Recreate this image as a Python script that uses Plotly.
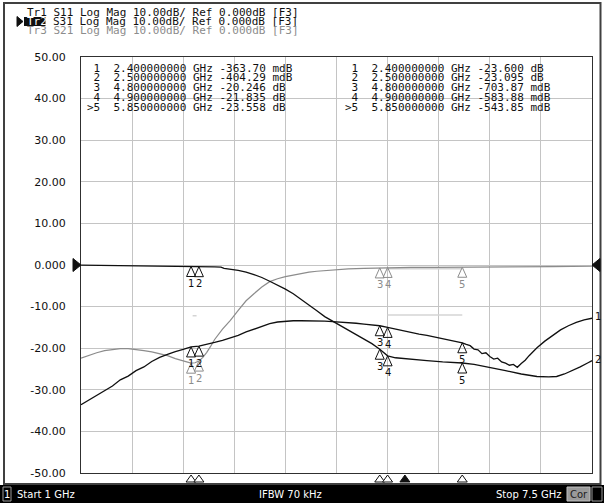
import plotly.graph_objects as go

# ---------------- data ----------------
start_ghz = 1.0
stop_ghz = 7.5
y_ticks = [50, 40, 30, 20, 10, 0, -10, -20, -30, -40, -50]
y_tick_text = ["50.00", "40.00", "30.00", "20.00", "10.00", "0.000",
               "-10.00", "-20.00", "-30.00", "-40.00", "-50.00"]

header_rows = ["Tr1 S11 Log Mag 10.00dB/ Ref 0.000dB [F3]",
               "Tr2 S31 Log Mag 10.00dB/ Ref 0.000dB [F3]",
               "Tr3 S21 Log Mag 10.00dB/ Ref 0.000dB [F3]"]

s11_freq = [1.00, 1.10, 1.20, 1.30, 1.40, 1.50, 1.60, 1.70, 1.80, 1.90,
            2.00, 2.10, 2.20, 2.30, 2.40, 2.50, 2.60, 2.70, 2.80, 2.90,
            3.00, 3.10, 3.20, 3.30, 3.40, 3.50, 3.60, 3.70, 3.80, 3.90,
            4.00, 4.10, 4.20, 4.30, 4.40, 4.50, 4.60, 4.70, 4.80, 4.90,
            5.00, 5.10, 5.20, 5.30, 5.40, 5.50, 5.60, 5.70, 5.80, 5.85,
            5.90, 5.95, 6.00, 6.05, 6.10, 6.15, 6.20, 6.25, 6.30, 6.35,
            6.40, 6.45, 6.50, 6.55, 6.60, 6.65, 6.70, 6.80, 6.90, 7.00,
            7.10, 7.20, 7.30, 7.40, 7.50]
s11_db = [-33.6, -32.5, -31.4, -30.1, -29.1, -27.6, -26.7, -25.4, -24.5, -23.2,
          -22.2, -21.5, -20.8, -20.3, -19.7, -19.5, -19.1, -18.6, -18.1, -17.5,
          -16.9, -16.1, -15.4, -14.7, -14.1, -13.7, -13.5, -13.4, -13.4, -13.4,
          -13.5, -13.5, -13.6, -13.7, -13.8, -14.0, -14.2, -14.4, -14.6, -15.0,
          -15.4, -15.8, -16.3, -16.6, -16.9, -17.3, -17.7, -18.0, -18.4, -18.7,
          -19.1, -19.4, -20.2, -20.4, -21.3, -21.1, -22.0, -22.6, -22.4, -23.3,
          -23.6, -24.1, -23.9, -24.6, -23.7, -22.9, -21.8, -19.9, -18.3, -16.9,
          -15.6, -14.6, -13.8, -13.2, -12.8]

s31_freq = [1.00, 1.50, 2.00, 2.40, 2.50, 2.70, 2.78, 2.82, 3.00, 3.10,
            3.20, 3.30, 3.40, 3.50, 3.60, 3.70, 3.80, 3.90, 4.00, 4.10,
            4.20, 4.30, 4.40, 4.50, 4.60, 4.70, 4.80, 4.90, 5.00, 5.20,
            5.40, 5.60, 5.85, 6.00, 6.20, 6.40, 6.60, 6.80, 6.95, 7.05,
            7.15, 7.25, 7.35, 7.45, 7.50]
s31_db = [-0.05, -0.12, -0.25, -0.3637, -0.40429, -0.45, -0.5, -0.8, -1.3, -1.7,
          -2.3, -3.0, -3.9, -4.8, -5.8, -6.9, -8.2, -9.6, -11.0, -12.4,
          -13.5, -14.5, -15.5, -16.6, -17.7, -18.9, -20.246, -21.835, -22.3, -22.7,
          -23.0, -23.3, -23.558, -23.9, -24.6, -25.4, -26.2, -26.8, -26.9, -26.8,
          -26.2, -25.4, -24.5, -23.5, -23.0]

s21_freq = [1.00, 1.10, 1.20, 1.30, 1.40, 1.50, 1.60, 1.70, 1.80, 1.90,
            2.00, 2.10, 2.20, 2.30, 2.40, 2.45, 2.50, 2.55, 2.60, 2.65,
            2.70, 2.80, 2.90, 3.00, 3.10, 3.20, 3.30, 3.40, 3.50, 3.60,
            3.70, 3.80, 3.90, 4.00, 4.20, 4.40, 4.60, 4.80, 4.90, 5.20,
            5.50, 5.85, 6.20, 6.60, 7.00, 7.50]
s21_db = [-22.4, -21.7, -21.1, -20.6, -20.3, -20.1, -20.1, -20.3, -20.6, -20.9,
          -21.3, -21.8, -22.5, -23.1, -23.6, -23.5, -23.095, -22.2, -21.0, -19.5,
          -17.9, -15.4, -13.3, -10.9, -8.6, -6.9, -5.3, -4.0, -3.3, -2.8,
          -2.4, -2.0, -1.7, -1.5, -1.2, -0.95, -0.8, -0.70387, -0.58388, -0.56,
          -0.55, -0.54385, -0.5, -0.45, -0.38, -0.3]

marker_freq = [2.4, 2.5, 4.8, 4.9, 5.85]
marker_names = ["1", "2", "3", "4", "5"]
s31_marker_db = [-0.36370, -0.40429, -20.246, -21.835, -23.558]
s21_marker_db = [-23.600, -23.095, -0.70387, -0.58388, -0.54385]
s11_marker_db = [-19.7, -19.5, -14.6, -15.0, -18.7]
active_marker_freq = [5.12]

aux_freq = [[2.42, 2.47], [4.9, 5.85], [4.9, 5.85]]
aux_db = [[-12.2, -12.2], [-12.0, -12.0], [-0.9, -0.9]]

status_left = "Start 1 GHz"
status_mid = "IFBW 70 kHz"
status_right = "Stop 7.5 GHz"

# ---------------- layout helpers ----------------
W, H = 604, 503
L, R, T, B = 81, 592, 57, 473


def px(x):
    return (x - L) / (R - L)


def py(y):
    return (B - y) / (B - T)


BLACK = "#101010"
GREY = "#8c8c8c"
MONO = "DejaVu Sans Mono"
SANS = "DejaVu Sans"

fig = go.Figure()

for fx, fy in zip(aux_freq, aux_db):
    fig.add_trace(go.Scatter(x=fx, y=fy, mode="lines",
                             line=dict(color="#d4d4d4", width=1.5),
                             hoverinfo="skip", showlegend=False))

fig.add_trace(go.Scatter(x=s21_freq, y=s21_db, mode="lines",
                         line=dict(color=GREY, width=1.2), showlegend=False))
fig.add_trace(go.Scatter(x=s11_freq, y=s11_db, mode="lines",
                         line=dict(color=BLACK, width=1.3), showlegend=False))
fig.add_trace(go.Scatter(x=s31_freq, y=s31_db, mode="lines",
                         line=dict(color=BLACK, width=1.3), showlegend=False))

shapes = []
annotations = []

# markers on traces
for vals, col in [(s11_marker_db, BLACK), (s31_marker_db, BLACK), (s21_marker_db, GREY)]:
    for f, v, name in zip(marker_freq, vals, marker_names):
        shapes.append(dict(type="path", xref="x", yref="y",
                           xsizemode="pixel", ysizemode="pixel",
                           xanchor=f, yanchor=v,
                           path="M 0 0 L 4.5 -10 L -4.5 -10 Z",
                           line=dict(color=col, width=1),
                           fillcolor="rgba(0,0,0,0)"))
        annotations.append(dict(xref="x", yref="y", x=f, y=v, yshift=-17,
                                text=name, showarrow=False,
                                font=dict(family=SANS, size=10, color=col)))

# marker position indicators below plot
for f in marker_freq:
    shapes.append(dict(type="path", xref="x", yref="paper",
                       xsizemode="pixel", ysizemode="pixel",
                       xanchor=f, yanchor=0,
                       path="M 0 -2 L 5 -9 L -5 -9 Z",
                       line=dict(color=BLACK, width=1),
                       fillcolor="white"))
for f in active_marker_freq:
    shapes.append(dict(type="path", xref="x", yref="paper",
                       xsizemode="pixel", ysizemode="pixel",
                       xanchor=f, yanchor=0,
                       path="M 0 -2 L 5 -9 L -5 -9 Z",
                       line=dict(color=BLACK, width=1),
                       fillcolor=BLACK))

# reference level triangles
shapes.append(dict(type="path", xref="paper", yref="y",
                   xsizemode="pixel", ysizemode="pixel", xanchor=0, yanchor=0,
                   path="M 0 0 L -8 6.5 L -8 -6.5 Z",
                   line=dict(color=BLACK, width=1), fillcolor=BLACK))
shapes.append(dict(type="path", xref="paper", yref="y",
                   xsizemode="pixel", ysizemode="pixel", xanchor=1, yanchor=0,
                   path="M 0 0 L 8 6.5 L 8 -6.5 Z",
                   line=dict(color=BLACK, width=1), fillcolor=BLACK))

# trace end labels
annotations.append(dict(xref="x", yref="y", x=s11_freq[-1], y=s11_db[-1],
                        xshift=6, yshift=2, text="1", showarrow=False,
                        font=dict(family=SANS, size=10, color=BLACK)))
annotations.append(dict(xref="x", yref="y", x=s31_freq[-1], y=s31_db[-1],
                        xshift=6, yshift=1, text="2", showarrow=False,
                        font=dict(family=SANS, size=10, color=BLACK)))

# window frame
shapes.append(dict(type="rect", xref="paper", yref="paper",
                   x0=px(4), x1=px(600.5), y0=py(484), y1=py(3),
                   line=dict(color="#404040", width=2), fillcolor="rgba(0,0,0,0)",
                   layer="below"))

# header
header_y = [12.5, 21.5, 30.5]
annotations.append(dict(xref="paper", yref="paper", x=px(25), y=py(header_y[0]),
                        xanchor="left", yanchor="middle", text=header_rows[0],
                        showarrow=False, font=dict(family=MONO, size=11, color=BLACK)))
shapes.append(dict(type="rect", xref="paper", yref="paper",
                   x0=px(24), x1=px(45.5), y0=py(header_y[1] + 4.5), y1=py(header_y[1] - 4.5),
                   line=dict(width=0), fillcolor=BLACK))
annotations.append(dict(xref="paper", yref="paper", x=px(25), y=py(header_y[1]),
                        xanchor="left", yanchor="middle", text=header_rows[1][:3],
                        showarrow=False,
                        font=dict(family=MONO, size=11, color="white")))
annotations.append(dict(xref="paper", yref="paper", x=px(25 + 4 * 6.62), y=py(header_y[1]),
                        xanchor="left", yanchor="middle", text=header_rows[1][4:],
                        showarrow=False, font=dict(family=MONO, size=11, color=BLACK)))
annotations.append(dict(xref="paper", yref="paper", x=px(25), y=py(header_y[2]),
                        xanchor="left", yanchor="middle", text=header_rows[2],
                        showarrow=False, font=dict(family=MONO, size=11, color=GREY)))
shapes.append(dict(type="path", xref="paper", yref="paper",
                   path="M {} {} L {} {} L {} {} Z".format(px(17), py(header_y[1] - 5),
                                                          px(23), py(header_y[1]),
                                                          px(17), py(header_y[1] + 5)),
                   line=dict(color=BLACK, width=1), fillcolor=BLACK))


# marker tables
def fmt_val(v):
    if abs(v) < 1:
        return "{:.2f} mdB".format(v * 1000)
    return "{:.3f} dB".format(v)


table_y = [68, 77.7, 87.5, 97.3, 107]
for col_x, vals in [(85, s31_marker_db), (343, s21_marker_db)]:
    for i, (f, v, name) in enumerate(zip(marker_freq, vals, marker_names)):
        tag = (">" if i == len(marker_names) - 1 else " ") + name
        line = "{}  {:.9f} GHz {}".format(tag, f, fmt_val(v))
        annotations.append(dict(xref="paper", yref="paper", x=px(col_x), y=py(table_y[i]),
                                xanchor="left", yanchor="middle", text=line.replace(" ", "\u00a0"),
                                showarrow=False, font=dict(family=MONO, size=11, color=BLACK)))

# status bar
shapes.append(dict(type="rect", xref="paper", yref="paper",
                   x0=px(0), x1=px(604), y0=py(503), y1=py(485),
                   line=dict(width=0), fillcolor="#000000", layer="below"))
shapes.append(dict(type="rect", xref="paper", yref="paper",
                   x0=px(3), x1=px(11), y0=py(501), y1=py(487),
                   line=dict(color="#9a9a9a", width=1), fillcolor="rgba(0,0,0,0)"))
annotations.append(dict(xref="paper", yref="paper", x=px(7), y=py(494),
                        text="1", showarrow=False, xanchor="center", yanchor="middle",
                        font=dict(family=SANS, size=10, color="white")))
annotations.append(dict(xref="paper", yref="paper", x=px(15), y=py(494),
                        text=status_left, showarrow=False, xanchor="left", yanchor="middle",
                        font=dict(family=SANS, size=10, color="white")))
annotations.append(dict(xref="paper", yref="paper", x=px(290), y=py(494),
                        text=status_mid, showarrow=False, xanchor="center", yanchor="middle",
                        font=dict(family=SANS, size=10, color="white")))
annotations.append(dict(xref="paper", yref="paper", x=px(564), y=py(494),
                        text=status_right, showarrow=False, xanchor="right", yanchor="middle",
                        font=dict(family=SANS, size=10, color="white")))
shapes.append(dict(type="rect", xref="paper", yref="paper",
                   x0=px(567), x1=px(590), y0=py(501), y1=py(487),
                   line=dict(color="#c0c0c0", width=1), fillcolor="#9a9a9a"))
annotations.append(dict(xref="paper", yref="paper", x=px(578.5), y=py(494),
                        text="Cor", showarrow=False, xanchor="center", yanchor="middle",
                        font=dict(family=SANS, size=10, color="#202020")))
shapes.append(dict(type="rect", xref="paper", yref="paper",
                   x0=px(592), x1=px(602), y0=py(501), y1=py(487),
                   line=dict(color="#9a9a9a", width=1), fillcolor="rgba(0,0,0,0)"))

fig.update_layout(
    width=W, height=H,
    margin=dict(l=L, r=W - R, t=T, b=H - B),
    paper_bgcolor="white", plot_bgcolor="white",
    shapes=shapes, annotations=annotations,
    showlegend=False,
    xaxis=dict(range=[start_ghz, stop_ghz], tick0=start_ghz,
               dtick=(stop_ghz - start_ghz) / 10, showticklabels=False,
               showgrid=True, gridcolor="#c4c4c4", gridwidth=1, zeroline=False,
               showline=True, linecolor="#303030", linewidth=1, mirror=True,
               ticks=""),
    yaxis=dict(range=[-50, 50], tickvals=y_ticks, ticktext=y_tick_text,
               showgrid=True, gridcolor="#c4c4c4", gridwidth=1, zeroline=False,
               showline=True, linecolor="#303030", linewidth=1, mirror=True,
               ticks="outside", ticklen=12, tickcolor="rgba(0,0,0,0)",
               tickfont=dict(family=SANS, size=11, color=BLACK)),
)

fig.write_html("out.html",
               config={"displayModeBar": False},
               post_script="document.body.style.margin='0px';"
                           "document.body.style.overflow='hidden';")
